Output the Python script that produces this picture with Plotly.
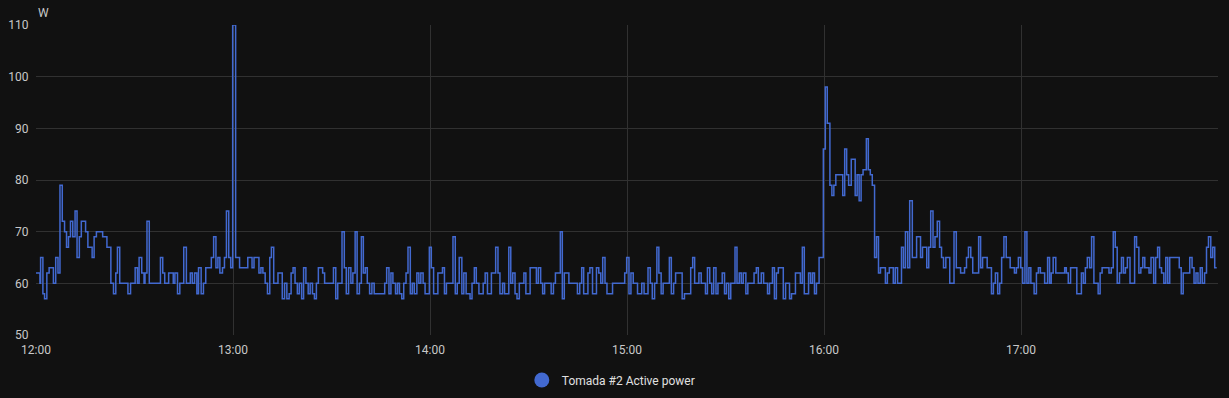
import pandas as pd
import plotly.graph_objects as go

# ---- data (minutes after 12:00, watts) ----
minutes_after_noon = [
    0.0, 1.2, 1.4, 2.1, 2.6, 3.3, 4.0, 5.3, 6.0, 6.7, 7.3, 8.0, 8.7, 9.3, 9.9, 10.5, 11.2, 11.9, 12.5, 13.2,
    13.8, 15.1, 15.8, 17.1, 17.7, 18.4, 20.3, 21.6, 22.8, 23.6, 24.3, 24.8, 25.5, 28.0, 28.8, 30.2, 30.9, 31.4,
    32.2, 32.9, 33.2, 33.8, 34.5, 37.9, 38.6, 39.2, 40.4, 41.8, 42.3, 43.1, 43.8, 45.0, 45.8, 47.0, 47.6, 48.3,
    49.0, 49.5, 50.3, 51.0, 51.7, 53.4, 54.1, 54.8, 55.4, 56.0, 56.8, 57.4, 58.0, 58.7, 59.3, 59.9, 60.8, 62.0,
    64.5, 65.8, 66.4, 67.9, 68.5, 69.1, 69.8, 70.5, 71.2, 71.7, 72.4, 73.7, 75.0, 75.7, 76.4, 77.1, 77.7, 78.3,
    78.9, 79.6, 80.2, 80.9, 81.5, 82.2, 82.9, 83.5, 84.2, 84.8, 85.4, 86.0, 87.3, 87.9, 90.6, 91.3, 91.9, 93.2,
    93.9, 94.5, 95.2, 95.9, 96.5, 97.2, 97.8, 98.5, 99.1, 99.7, 100.3, 100.9, 101.6, 102.3, 103.0, 106.2, 106.8,
    107.5, 108.1, 108.7, 109.5, 110.1, 110.7, 111.4, 112.0, 112.7, 113.3, 114.0, 114.6, 115.2, 116.0, 116.6,
    117.2, 117.9, 118.5, 119.8, 120.4, 121.1, 122.4, 123.8, 124.4, 125.0, 127.0, 127.7, 128.3, 128.9, 129.7,
    130.3, 131.0, 132.2, 132.8, 133.5, 134.1, 134.9, 136.2, 136.8, 137.5, 138.7, 140.0, 140.7, 141.3, 142.1,
    142.7, 144.0, 144.6, 145.2, 145.9, 146.5, 147.2, 148.6, 149.2, 150.5, 152.4, 153.0, 153.7, 154.3, 154.9,
    156.9, 157.6, 158.2, 159.7, 160.3, 160.9, 162.3, 164.9, 165.6, 166.2, 166.8, 168.1, 168.7, 169.5, 170.7,
    171.4, 172.0, 172.6, 173.3, 173.9, 175.6, 179.3, 179.9, 180.6, 181.2, 181.9, 183.2, 184.5, 185.2, 186.4,
    187.1, 187.7, 188.4, 189.1, 189.7, 190.4, 191.0, 192.9, 193.5, 194.2, 194.8, 196.8, 197.5, 199.4, 200.0,
    200.6, 201.9, 202.6, 203.9, 204.5, 205.2, 205.8, 206.4, 207.1, 207.7, 209.0, 209.7, 210.3, 211.0, 211.6,
    212.9, 213.5, 214.2, 214.8, 215.4, 216.2, 216.8, 218.7, 219.4, 220.0, 220.9, 221.6, 222.8, 223.4, 224.3,
    224.9, 225.5, 226.1, 227.6, 228.3, 229.5, 230.1, 231.3, 232.8, 233.4, 234.0, 235.3, 235.9, 236.5, 237.1,
    237.7, 238.5, 239.8, 240.4, 241.0, 241.8, 242.4, 243.0, 243.6, 245.7, 246.3, 246.9, 247.5, 248.3, 249.5,
    250.1, 250.7, 251.3, 251.9, 252.9, 253.5, 254.1, 254.7, 255.4, 256.0, 256.6, 257.2, 258.7, 259.3, 259.9,
    261.1, 261.7, 262.4, 263.6, 264.2, 264.8, 265.5, 266.1, 266.9, 268.2, 269.4, 270.0, 271.3, 271.9, 272.5,
    273.2, 273.8, 274.5, 275.2, 275.8, 276.4, 277.1, 278.3, 279.6, 280.3, 281.6, 282.8, 283.4, 284.0, 284.7,
    285.3, 287.1, 287.7, 288.3, 289.7, 291.0, 291.6, 292.2, 292.9, 293.5, 294.1, 294.8, 295.5, 296.7, 298.0,
    298.6, 299.2, 299.9, 300.5, 301.2, 301.8, 302.4, 303.0, 304.0, 304.7, 305.3, 305.9, 307.2, 308.1, 308.7,
    309.2, 309.8, 310.6, 313.3, 313.8, 314.4, 315.1, 317.0, 318.4, 319.0, 319.6, 320.2, 320.9, 321.5, 322.2,
    323.5, 324.1, 324.7, 326.8, 327.5, 328.1, 328.7, 329.3, 330.0, 330.6, 331.2, 331.8, 332.4, 333.2, 334.6,
    335.2, 335.9, 336.5, 337.1, 337.7, 339.0, 339.6, 340.4, 341.0, 341.6, 342.2, 342.8, 343.5, 344.1, 344.7,
    345.3, 348.2, 348.8, 349.4, 351.4, 352.1, 352.7, 353.3, 353.9, 354.6, 355.2, 355.9, 356.5, 357.1, 357.8,
    358.4, 359.0, 359.6,
]
power_w = [
    62, 60, 65, 58, 57, 62, 63, 60, 65, 62, 79, 72, 70, 67, 69, 72, 69, 74, 65, 69,
    72, 70, 67, 65, 69, 70, 69, 67, 60, 58, 62, 67, 60, 58, 60, 63, 60, 65,
    62, 60, 62, 72, 60, 65, 62, 60, 62, 60, 62, 58, 60, 67, 60, 62, 60, 62,
    58, 63, 58, 60, 63, 65, 69, 63, 65, 62, 63, 65, 74, 65, 63, 110, 65, 63,
    65, 63, 65, 62, 63, 62, 60, 58, 65, 67, 60, 62, 57, 60, 57, 58, 62, 63,
    60, 58, 60, 57, 63, 60, 58, 60, 58, 57, 60, 63, 62, 60, 63, 57, 60, 70,
    63, 58, 63, 60, 62, 70, 58, 60, 69, 62, 63, 60, 58, 60, 58, 60, 63,
    58, 62, 60, 58, 60, 58, 57, 60, 62, 67, 58, 60, 58, 62, 60,
    62, 60, 58, 67, 63, 58, 62, 63, 58, 60, 69, 58, 60, 65, 58,
    62, 58, 57, 60, 63, 60, 58, 60, 62, 58, 62, 67, 62, 58, 60,
    58, 67, 60, 62, 58, 57, 60, 62, 58, 63, 60, 63, 60, 58, 60,
    58, 60, 62, 70, 57, 62, 60, 58, 60, 63, 58, 62, 63, 58, 63,
    62, 60, 65, 60, 58, 60, 62, 65, 58, 62, 60, 58, 60, 58, 63,
    60, 57, 60, 67, 62, 58, 60, 65, 58, 60, 62, 57, 58, 63, 65,
    60, 62, 60, 58, 63, 60, 58, 63, 58, 60, 62, 58, 60, 57, 60,
    67, 60, 62, 60, 62, 58, 60, 62, 63, 60, 62, 60, 58, 60, 63,
    57, 62, 63, 57, 60, 57, 58, 62, 60, 67, 58, 62, 60, 62, 58,
    60, 65, 86, 98, 91, 79, 77, 79, 81, 77, 86, 81, 79, 84, 77,
    81, 76, 81, 82, 88, 82, 81, 79, 65, 69, 62, 63, 60, 62, 63,
    60, 63, 60, 67, 63, 70, 63, 76, 65, 69, 65, 67, 63, 67, 74,
    67, 69, 72, 67, 65, 63, 65, 60, 70, 63, 62, 63, 65, 67, 65,
    62, 69, 63, 65, 63, 58, 60, 62, 58, 60, 65, 69, 65, 63, 62,
    63, 65, 63, 60, 70, 60, 63, 60, 58, 62, 63, 62, 60, 65, 60,
    62, 65, 62, 63, 62, 60, 63, 58, 62, 60, 63, 65, 63, 69, 60,
    58, 62, 63, 62, 63, 70, 67, 60, 62, 65, 62, 63, 65, 60, 69,
    67, 62, 63, 65, 63, 62, 65, 60, 65, 67, 63, 62, 60, 65, 60,
    65, 63, 58, 62, 65, 63, 60, 62, 60, 63, 60, 62, 67, 69, 65,
    67, 63, 63,
]
series_name = "Tomada #2 Active power"
y_ticks = [50, 60, 70, 80, 90, 100, 110]
x_tick_hours = [12, 13, 14, 15, 16, 17, 18]
x_tick_labels = ["12:00", "13:00", "14:00", "15:00", "16:00", "17:00", ""]

day = pd.Timestamp("2024-01-01")
times = day + pd.Timedelta(hours=12) + pd.to_timedelta(minutes_after_noon, unit="min")
tick_times = [day + pd.Timedelta(hours=h) for h in x_tick_hours]

LINE = "#4269d0"
GRID = "#313131"
TXT = "#c8c8c8"
FONT = "Roboto, sans-serif"

fig = go.Figure()
fig.add_trace(go.Scatter(
    x=times, y=power_w, mode="lines", line=dict(color=LINE, width=1.5, shape="hv"),
    showlegend=False, name=series_name,
))
fig.add_trace(go.Scatter(
    x=[None], y=[None], mode="markers", marker=dict(color=LINE, size=15, symbol="circle"),
    name=series_name, showlegend=True,
))

fig.update_layout(
    width=1229, height=398,
    paper_bgcolor="#111111", plot_bgcolor="#111111",
    margin=dict(l=36, r=11, t=25, b=63, autoexpand=False),
    font=dict(family=FONT, size=12, color=TXT),
    showlegend=True,
    legend=dict(orientation="h", x=0.497, xanchor="center", xref="container",
                y=1 - 380 / 398, yanchor="middle", yref="container",
                font=dict(size=12, color="#e0e0e0"), bgcolor="rgba(0,0,0,0)"),
    xaxis=dict(
        range=[tick_times[0], tick_times[-1]], tickvals=tick_times, ticktext=x_tick_labels,
        showgrid=True, gridcolor=GRID, gridwidth=1, zeroline=False, showline=False,
        ticks="outside", ticklen=4, tickcolor="rgba(0,0,0,0)", tickfont=dict(size=12, color=TXT),
    ),
    yaxis=dict(
        range=[50, 110], tickvals=y_ticks, showgrid=True, gridcolor=GRID, gridwidth=1,
        zeroline=False, showline=False, ticks="outside", ticklen=4, tickcolor="rgba(0,0,0,0)",
        tickfont=dict(size=12, color=TXT),
    ),
    annotations=[dict(text="W", xref="paper", yref="paper", x=0, y=1, xanchor="left", yanchor="bottom",
                      yshift=3, xshift=0, showarrow=False, font=dict(size=12, color=TXT))],
)

fig.write_html("out.html")
